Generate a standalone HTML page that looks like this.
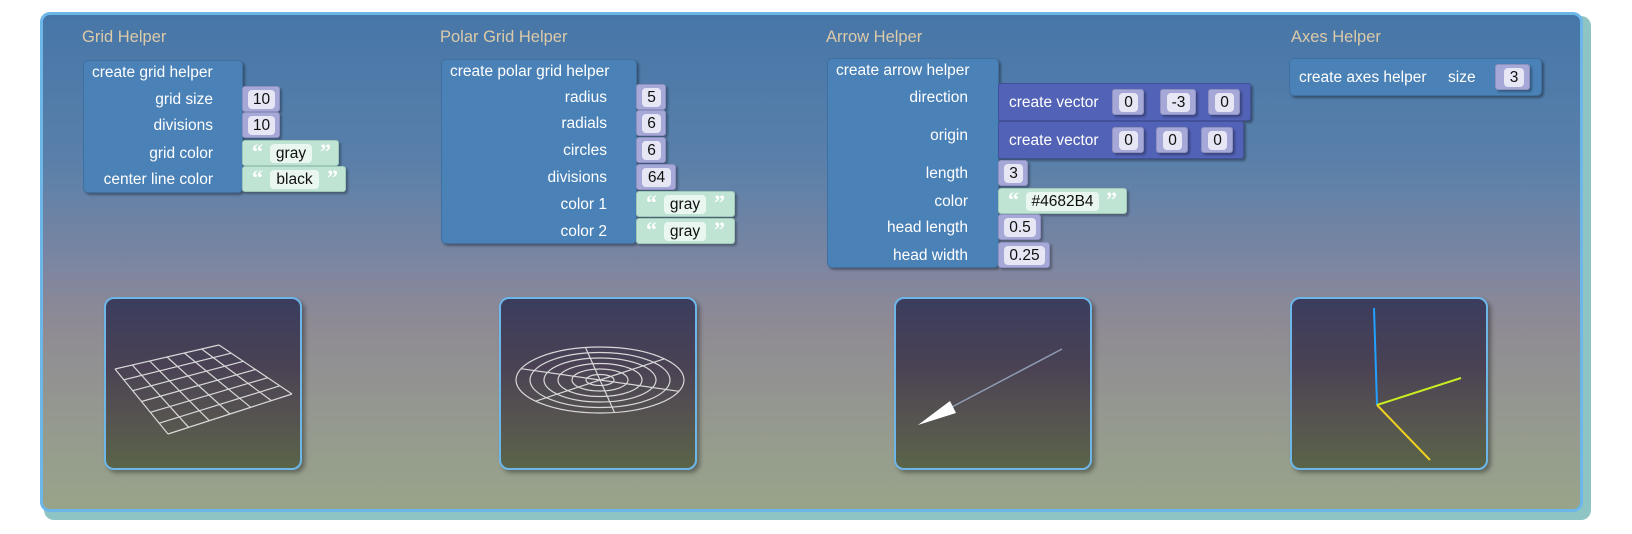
<!DOCTYPE html>
<html><head><meta charset="utf-8">
<style>
*{margin:0;padding:0;box-sizing:border-box}
body{width:1632px;height:534px;background:#fff;position:relative;overflow:hidden;font-family:"Liberation Sans",sans-serif}
.abs{position:absolute}
.panel-back{left:44px;top:16px;width:1547px;height:504px;background:#8fc4c4;border-radius:10px}
.panel{left:40px;top:12px;width:1543px;height:500px;border:3px solid #6cb6e8;border-radius:10px;
background:linear-gradient(180deg,#4676a8 0%,#5a80aa 30%,#7f86a0 52%,#8e8a94 62%,#949690 78%,#98a48a 100%)}
.title{font-size:16.5px;color:#dccaa8;position:absolute}
.blk{position:absolute;background:#4a81b6;border-radius:5px;box-shadow:2px 2px 2px rgba(0,0,0,.35);border:1px solid #3f70a0}
.num{position:absolute;background:#a6a8d8;border-radius:3px;box-shadow:2px 2px 2px rgba(0,0,0,.3);height:26px;border:1px solid #8e90c0}
.str{position:absolute;background:#bfe4d4;border-radius:3px;box-shadow:2px 2px 2px rgba(0,0,0,.3);height:26px;border:1px solid #9fc8b8}
.vec{position:absolute;background:#5262b6;border-radius:3px;box-shadow:2px 2px 2px rgba(0,0,0,.35);height:38px;border:1px solid #43509a}
.fld{position:absolute;top:3px;height:19px;background:#e6e6f4;border-radius:4px;font-size:15.5px;color:#111;text-align:center;line-height:19px}
.sfld{position:absolute;top:3px;height:19px;background:#eaf6f0;border-radius:4px;font-size:15.5px;color:#111;text-align:center;line-height:19px}
.q{position:absolute;top:-2px;color:#fff;font-size:22px;font-weight:bold;font-family:"Liberation Serif",serif}
.lbl{position:absolute;color:#fff;font-size:15.5px;white-space:nowrap;line-height:17px}
.r{text-align:right}
.thumb{position:absolute;width:198px;height:173px;border:2px solid #6cb6e8;border-radius:10px;
background:linear-gradient(180deg,#3b3d5e 0%,#4a4254 40%,#565350 70%,#5a6448 100%);box-shadow:3px 3px 4px rgba(0,0,0,.35)}
</style></head><body>
<div class="abs panel-back"></div>
<div class="abs panel"></div>

<div class="title" style="left:82px;top:28px">Grid Helper</div>
<div class="title" style="left:440px;top:28px">Polar Grid Helper</div>
<div class="title" style="left:826px;top:28px">Arrow Helper</div>
<div class="title" style="left:1291px;top:28px">Axes Helper</div>

<!-- Grid helper block -->
<div class="blk" style="left:83px;top:60px;width:160px;height:133px"></div>
<div class="lbl" style="left:92px;top:64px">create grid helper</div>
<div class="lbl r" style="left:90px;width:123px;top:91px">grid size</div>
<div class="lbl r" style="left:90px;width:123px;top:117px">divisions</div>
<div class="lbl r" style="left:90px;width:123px;top:145px">grid color</div>
<div class="lbl r" style="left:88px;width:125px;top:171px">center line color</div>
<div class="num" style="left:242px;top:86px;width:38px"><div class="fld" style="left:5px;width:27px">10</div></div>
<div class="num" style="left:242px;top:112px;width:38px"><div class="fld" style="left:5px;width:27px">10</div></div>
<div class="str" style="left:242px;top:140px;width:97px"><span class="q" style="left:9px">“</span><div class="sfld" style="left:27px;width:42px">gray</div><span class="q" style="left:77px">”</span></div>
<div class="str" style="left:242px;top:166px;width:104px"><span class="q" style="left:9px">“</span><div class="sfld" style="left:27px;width:49px">black</div><span class="q" style="left:84px">”</span></div>

<!-- Polar grid helper -->
<div class="blk" style="left:441px;top:59px;width:196px;height:185px"></div>
<div class="lbl" style="left:450px;top:63px">create polar grid helper</div>
<div class="lbl r" style="left:480px;width:127px;top:89px">radius</div>
<div class="lbl r" style="left:480px;width:127px;top:115px">radials</div>
<div class="lbl r" style="left:480px;width:127px;top:142px">circles</div>
<div class="lbl r" style="left:480px;width:127px;top:169px">divisions</div>
<div class="lbl r" style="left:480px;width:127px;top:196px">color 1</div>
<div class="lbl r" style="left:480px;width:127px;top:223px">color 2</div>
<div class="num" style="left:636px;top:84px;width:30px"><div class="fld" style="left:5px;width:19px">5</div></div>
<div class="num" style="left:636px;top:110px;width:30px"><div class="fld" style="left:5px;width:19px">6</div></div>
<div class="num" style="left:636px;top:137px;width:30px"><div class="fld" style="left:5px;width:19px">6</div></div>
<div class="num" style="left:636px;top:164px;width:40px"><div class="fld" style="left:5px;width:29px">64</div></div>
<div class="str" style="left:636px;top:191px;width:99px"><span class="q" style="left:9px">“</span><div class="sfld" style="left:27px;width:42px">gray</div><span class="q" style="left:77px">”</span></div>
<div class="str" style="left:636px;top:218px;width:99px"><span class="q" style="left:9px">“</span><div class="sfld" style="left:27px;width:42px">gray</div><span class="q" style="left:77px">”</span></div>

<!-- Arrow helper -->
<div class="blk" style="left:827px;top:58px;width:172px;height:210px"></div>
<div class="lbl" style="left:836px;top:62px">create arrow helper</div>
<div class="lbl r" style="left:850px;width:118px;top:89px">direction</div>
<div class="lbl r" style="left:850px;width:118px;top:127px">origin</div>
<div class="lbl r" style="left:850px;width:118px;top:165px">length</div>
<div class="lbl r" style="left:850px;width:118px;top:193px">color</div>
<div class="lbl r" style="left:840px;width:128px;top:219px">head length</div>
<div class="lbl r" style="left:840px;width:128px;top:247px">head width</div>

<div class="vec" style="left:998px;top:83px;width:253px">
 <div class="lbl" style="left:10px;top:10px">create vector</div>
 <div class="num" style="left:113px;top:5px;width:32px;height:26px"><div class="fld" style="left:6px;width:19px">0</div></div>
 <div class="num" style="left:161px;top:5px;width:36px;height:26px"><div class="fld" style="left:6px;width:23px">-3</div></div>
 <div class="num" style="left:209px;top:5px;width:32px;height:26px"><div class="fld" style="left:6px;width:19px">0</div></div>
</div>
<div class="vec" style="left:998px;top:121px;width:246px">
 <div class="lbl" style="left:10px;top:10px">create vector</div>
 <div class="num" style="left:113px;top:5px;width:32px;height:26px"><div class="fld" style="left:6px;width:19px">0</div></div>
 <div class="num" style="left:157px;top:5px;width:32px;height:26px"><div class="fld" style="left:6px;width:19px">0</div></div>
 <div class="num" style="left:202px;top:5px;width:32px;height:26px"><div class="fld" style="left:6px;width:19px">0</div></div>
</div>
<div class="num" style="left:998px;top:160px;width:30px"><div class="fld" style="left:5px;width:19px">3</div></div>
<div class="str" style="left:998px;top:188px;width:129px"><span class="q" style="left:9px">“</span><div class="sfld" style="left:27px;width:73px">#4682B4</div><span class="q" style="left:107px">”</span></div>
<div class="num" style="left:998px;top:214px;width:43px"><div class="fld" style="left:5px;width:32px">0.5</div></div>
<div class="num" style="left:998px;top:242px;width:52px"><div class="fld" style="left:5px;width:41px">0.25</div></div>

<!-- Axes helper -->
<div class="blk" style="left:1289px;top:58px;width:253px;height:38px"></div>
<div class="lbl" style="left:1299px;top:69px">create axes helper</div>
<div class="lbl" style="left:1448px;top:69px">size</div>
<div class="num" style="left:1495px;top:64px;width:35px"><div class="fld" style="left:8px;width:20px">3</div></div>

<!-- Thumbnails -->
<div class="thumb" style="left:104px;top:297px"></div>
<div class="thumb" style="left:499px;top:297px"></div>
<div class="thumb" style="left:894px;top:297px"></div>
<div class="thumb" style="left:1290px;top:297px"></div>

<svg class="abs" style="left:0;top:0" width="1632" height="534">
 <g id="grid" stroke="#d8d8d8" stroke-width="1.2" fill="none"></g>
 <g id="polar" stroke="#d8d8d8" stroke-width="1.2" fill="none"></g>
 <line x1="1062" y1="349" x2="950" y2="408" stroke="#8e9cb4" stroke-width="1.5"/>
 <polygon points="918,425 950,401 956,413" fill="#fff"/>
 <line x1="1377" y1="405" x2="1374" y2="308" stroke="#22a0ff" stroke-width="2"/>
 <line x1="1377" y1="405" x2="1461" y2="378" stroke="#c8f020" stroke-width="2"/>
 <line x1="1377" y1="405" x2="1430" y2="460" stroke="#f0d020" stroke-width="2"/>
</svg>
<script>
var gridDivs=6;
var L=[115,369],T=[219,345],R=[292,394],B=[168,434];
var g=document.getElementById('grid');
function lerp(a,b,t){return [a[0]+(b[0]-a[0])*t,a[1]+(b[1]-a[1])*t];}
for(var i=0;i<=gridDivs;i++){
 var t=i/gridDivs;
 var p1=lerp(L,T,t),p2=lerp(B,R,t);
 var ln=document.createElementNS('http://www.w3.org/2000/svg','line');
 
 
 ln.setAttribute('x1',p1[0]);ln.setAttribute('y1',p1[1]);ln.setAttribute('x2',p2[0]);ln.setAttribute('y2',p2[1]);
 g.appendChild(ln);
 var q1=lerp(L,B,t),q2=lerp(T,R,t);
 var ln2=document.createElementNS('http://www.w3.org/2000/svg','line');
 
 
 ln2.setAttribute('x1',q1[0]);ln2.setAttribute('y1',q1[1]);ln2.setAttribute('x2',q2[0]);ln2.setAttribute('y2',q2[1]);
 g.appendChild(ln2);
}
var circles=6,radials=6;
var cx=600,cy=380,rx=84,ry=33;
var pg=document.getElementById('polar');
for(var c=1;c<=circles;c++){
 var e=document.createElementNS('http://www.w3.org/2000/svg','ellipse');
 
 
 e.setAttribute('cx',cx);e.setAttribute('cy',cy);e.setAttribute('rx',rx*c/circles);e.setAttribute('ry',ry*c/circles);
 pg.appendChild(e);
}
for(var k=0;k<radials;k++){
 var a=k*2*Math.PI/radials+0.35;
 var l=document.createElementNS('http://www.w3.org/2000/svg','line');
 
 
 l.setAttribute('x1',cx);l.setAttribute('y1',cy);l.setAttribute('x2',cx+rx*Math.cos(a));l.setAttribute('y2',cy+ry*Math.sin(a));
 pg.appendChild(l);
}
</script>
</body></html>
